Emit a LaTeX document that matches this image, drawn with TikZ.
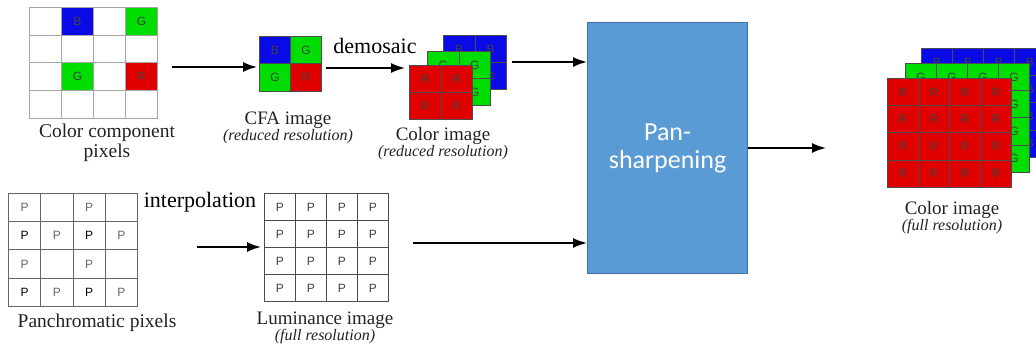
\documentclass[tikz,border=0pt]{standalone}
\usepackage{fontspec}
\setmainfont{Liberation Serif}
\newfontfamily\serf{Liberation Serif}
\newfontfamily\cellfont{Liberation Sans}
\newfontfamily\panfont{Carlito}
\usetikzlibrary{arrows.meta}
\definecolor{cB}{HTML}{0A0AE6}
\definecolor{cG}{HTML}{00DD00}
\definecolor{cR}{HTML}{E00000}
\definecolor{panfill}{HTML}{5B9BD5}
\definecolor{panline}{HTML}{41719C}
\definecolor{txt}{HTML}{222222}
% name, x0, y0, cell w, cell h, max index, line colour, fill, letter
\newcommand{\pgrid}[9]{%
  \foreach \c in {0,...,#6}{\foreach \r in {0,...,#6}{
    \node[cell=#7, fill=#8, minimum width=#4pt, minimum height=#5pt] (#1-\c-\r) at ({#2+\c*#4},{#3+\r*#5}) {#9};
  }}}
\newcommand{\subline}[1]{\fontsize{16}{20}\selectfont\itshape #1}
\begin{document}
\begin{tikzpicture}[x=1pt,y=-1pt,
  cell/.style={draw=#1, anchor=north west, inner sep=0pt, line width=0.9pt,
    font=\cellfont\fontsize{12}{12}\selectfont, text=black!75},
  let/.style={inner sep=0pt, font=\cellfont\fontsize{12}{12}\selectfont, text=black!75},
  lbl/.style={text=txt, align=center, inner sep=0pt, font=\serf\fontsize{19.5}{20}\selectfont},
  lbl2/.style={text=txt, align=center, inner sep=0pt, anchor=base, font=\serf\fontsize{19}{20}\selectfont},
  proc/.style={text=black, inner sep=0pt, font=\serf\fontsize{22}{24}\selectfont},
  arr/.style={line width=1.8pt, -{Latex[length=14pt,width=10pt]}},
  sq/.style={cell=gray!70, fill=#1, minimum width=32pt, minimum height=27.75pt}
]
\useasboundingbox (0,0) rectangle (1036,347);

% Color component pixels
\pgrid{ccp}{29}{7}{32}{27.75}{3}{gray!70}{white}{}
\node[sq=cB] (ccpB) at (61,7) {B};
\node[sq=cG] (ccpG1) at (125,7) {G};
\node[sq=cG] (ccpG2) at (61,62.5) {G};
\node[sq=cR] (ccpR) at (125,62.5) {R};
\node[lbl] (ccplbl) at (107,143) {Color component\\pixels};

% CFA image
\node[cell=gray!60!black, fill=cB, minimum width=31pt, minimum height=27.5pt] (cfa-0-0) at (259,36) {B};
\node[cell=gray!60!black, fill=cG, minimum width=31pt, minimum height=27.5pt] (cfa-1-0) at (290,36) {G};
\node[cell=gray!60!black, fill=cG, minimum width=31pt, minimum height=27.5pt] (cfa-0-1) at (259,63.5) {G};
\node[cell=gray!60!black, fill=cR, minimum width=31pt, minimum height=27.5pt] (cfa-1-1) at (290,63.5) {R};
\node[lbl2] (cfalbl) at (288,141) {CFA image\\[-3.5pt]\subline{(reduced resolution)}};
\node[proc] (demo) at (375,46) {demosaic};

% Color image (reduced)
\pgrid{rb}{443}{35}{31.5}{27}{1}{gray!60!black}{cB}{}
\foreach \c/\r in {0/0,1/0,1/1}{\node[let] at (rb-\c-\r.center) {B};}
\pgrid{rg}{427}{51}{31.5}{27}{1}{gray!60!black}{cG}{}
\foreach \c/\r in {0/0,1/0,1/1}{\node[let] at (rg-\c-\r.center) {G};}
\pgrid{rr}{409}{65}{31.5}{27}{1}{gray!60!black}{cR}{R}
\node[lbl2] (rlbl) at (443,157) {Color image\\[-3.5pt]\subline{(reduced resolution)}};

% Panchromatic pixels
\pgrid{pp}{8}{193}{32.25}{28.25}{3}{gray!80!black}{white}{}
\foreach \c/\r/\col in {0/0/black!60,2/0/black!60,0/1/black,1/1/black!60,2/1/black,3/1/black!60,
  0/2/black!60,2/2/black!60,0/3/black,1/3/black!60,2/3/black,3/3/black!60}{
  \node[let, text=\col] at (pp-\c-\r.center) {P};
}
\node[lbl] (pplbl) at (97,323) {Panchromatic pixels};
\node[proc] (interp) at (200,202) {interpolation};

% Luminance image
\pgrid{lum}{264}{193}{31}{27}{3}{gray!60!black}{white}{P}
\node[lbl2] (lumlbl) at (325,341) {Luminance image\\[-3.5pt]\subline{(full resolution)}};

% Pan-sharpening
\node[draw=panline, fill=panfill, line width=1.2pt, minimum width=160pt, minimum height=251pt,
  anchor=north west, text=white, font=\panfont\fontsize{26}{28}\selectfont, align=center, inner sep=0pt]
  (pan) at (587,22) {Pan-\\sharpening};

% Color image (full)
\begin{scope}
\clip (0,0) rectangle (1036,347);
\pgrid{fb}{921}{48}{31}{27.25}{3}{gray!60!black}{cB}{}
\foreach \c/\r in {0/0,1/0,2/0,3/0,3/1,3/2,3/3}{\node[let] at (fb-\c-\r.center) {B};}
\pgrid{fg}{905}{63}{31}{27.25}{3}{gray!60!black}{cG}{}
\foreach \c/\r in {0/0,1/0,2/0,3/0,3/1,3/2,3/3}{\node[let] at (fg-\c-\r.center) {G};}
\pgrid{fr}{887}{78}{31}{27.25}{3}{gray!60!black}{cR}{R}
\end{scope}
\node[lbl2] (flbl) at (952,231) {Color image\\[-3.5pt]\subline{(full resolution)}};

% connectors
\coordinate (a1s) at (172,67);
\coordinate (a1e) at (257,67);
\coordinate (a2s) at (326,68);
\coordinate (a2e) at (405,68);
\coordinate (a3s) at (512,62);
\coordinate (a4e) at (826,148);
\coordinate (a5s) at (197,247);
\coordinate (a5e) at (261,247);
\coordinate (a6s) at (413,243);
\draw[arr] (a1s) -- (a1e);
\draw[arr] (a2s) -- (a2e);
\draw[arr] (a3s) -- (a3s -| pan.west);
\draw[arr] (pan.east |- a4e) -- (a4e);
\draw[arr] (a5s) -- (a5e);
\draw[arr] (a6s) -- (a6s -| pan.west);
\end{tikzpicture}
\end{document}
